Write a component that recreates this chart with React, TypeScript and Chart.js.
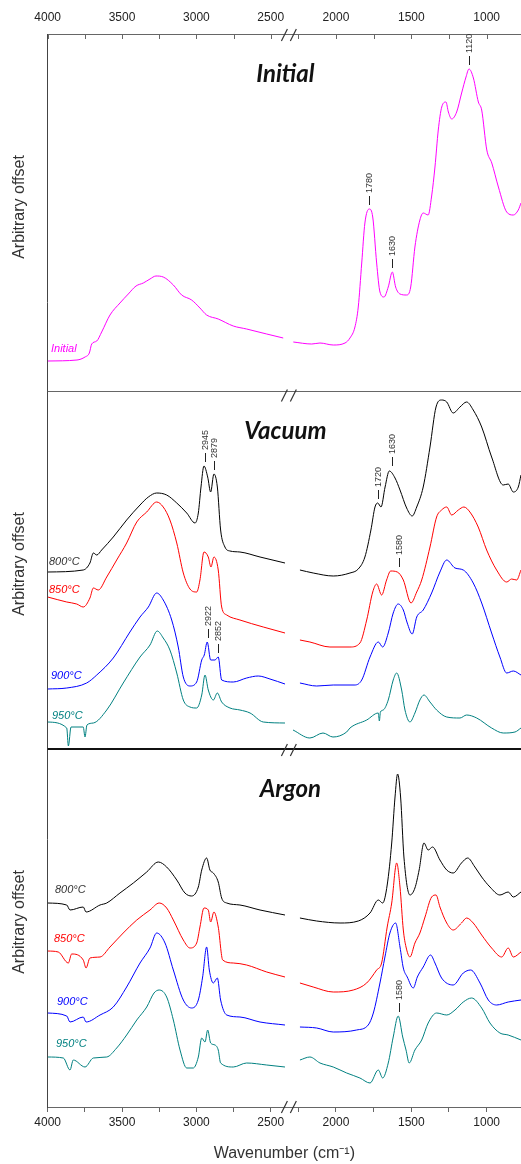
import React, { useEffect, useRef } from 'react';
import { Chart, registerables } from 'chart.js';

Chart.register(...registerables);

// ---------- axis (broken wavenumber axis) ----------
const LEFT_START_WN = 4000;
const BREAK_WN = 2330;
const RIGHT_U0 = 1938.8;
const RIGHT_SCALE = 1.01345;
const X_END_WN = 772;
const toU = (w: number) => (w >= BREAK_WN ? LEFT_START_WN - w : RIGHT_U0 + (2000 - w) * RIGHT_SCALE);

const TICK_WN = [4000, 3750, 3500, 3250, 3000, 2750, 2500, 2250, 2000, 1750, 1500, 1250, 1000];
const TICK_LABELS = ['4000', '', '3500', '', '3000', '', '2500', '', '2000', '', '1500', '', '1000'];
const BREAK_SLASH_WN = [2408, 2283];

// ---------- panels ----------
const PANEL_TITLES = ['Initial', 'Vacuum', 'Argon'];
const PANEL_OFFSET = [716, 358, 0];
const PANEL_TOP = [1073, 716, 358];
const Y_MAX = 1073;

// ---------- spectra (wavenumber, cm-1 / arbitrary offset units) ----------
const INITIAL_WN = [4000, 3803, 3749, 3720, 3704, 3670, 3637, 3581, 3514, 3458, 3406, 3357, 3312, 3272, 3223, 3155, 3099, 3032, 2976, 2931, 2853, 2752, 2662, 2527, 2416,
  2283, 2161, 2106, 2018, 1940, 1907, 1874, 1852, 1829, 1808, 1779, 1756, 1730, 1708, 1681, 1653, 1626, 1604, 1575, 1531, 1504, 1476, 1443, 1421, 1388, 1365, 1343, 1321, 1298, 1270, 1254, 1232, 1199, 1166, 1137, 1117, 1088, 1055, 1033, 999, 966, 922, 867, 823, 790, 772];
const INITIAL_ABS = [30, 31, 34, 38, 47, 50, 59, 76, 88, 97, 105, 108, 112, 115, 114, 106, 96, 91, 83, 76, 72, 65, 62, 57, 53,
  49, 47, 48, 46, 48, 53, 64, 84, 128, 168, 182, 174, 128, 99, 94, 104, 119, 104, 97, 96, 104, 144, 171, 178, 176, 195, 224, 261, 284, 289, 279, 272, 279, 298, 314, 322, 313, 289, 281, 241, 228, 204, 179, 176, 181, 188];

const VAC800_WN = [4000, 3761, 3716, 3693, 3670, 3637, 3559, 3469, 3379, 3323, 3267, 3200, 3132, 3065, 3009, 2987, 2969, 2949, 2924, 2904, 2882, 2859, 2837, 2808, 2774, 2707, 2572, 2404,
  2239, 2151, 2018, 1907, 1852, 1808, 1768, 1741, 1723, 1701, 1674, 1646, 1608, 1575, 1531, 1494, 1464, 1421, 1376, 1336, 1299, 1265, 1222, 1177, 1133, 1089, 1033, 967, 890, 857, 823, 790, 772];
const VAC800_ABS = [177, 179, 186, 196, 194, 199, 212, 229, 244, 252, 256, 254, 246, 236, 226, 236, 262, 283, 272, 257, 275, 262, 219, 202, 198, 197, 192, 186,
  179, 176, 173, 176, 180, 192, 219, 242, 246, 242, 262, 278, 271, 259, 241, 233, 242, 262, 302, 342, 349, 347, 336, 342, 347, 339, 322, 292, 264, 265, 257, 262, 274];

const VAC850_WN = [4000, 3872, 3805, 3761, 3716, 3693, 3660, 3603, 3536, 3469, 3401, 3334, 3267, 3223, 3178, 3132, 3088, 3043, 2998, 2976, 2949, 2920, 2902, 2882, 2853, 2830, 2796, 2707, 2550, 2404,
  2239, 2173, 2040, 1907, 1841, 1796, 1756, 1730, 1697, 1664, 1637, 1593, 1553, 1502, 1464, 1431, 1376, 1332, 1299, 1265, 1232, 1188, 1151, 1111, 1056, 1000, 934, 867, 834, 801, 772];
const VAC850_ABS = [152, 147, 145, 142, 151, 161, 159, 172, 189, 206, 227, 237, 247, 242, 229, 206, 176, 160, 157, 169, 197, 192, 182, 192, 179, 142, 134, 129, 122, 116,
  109, 107, 102, 102, 106, 129, 157, 165, 154, 169, 178, 177, 169, 146, 157, 169, 202, 232, 239, 242, 234, 239, 242, 237, 222, 199, 179, 167, 170, 169, 179];

const VAC900_WN = [4000, 3872, 3738, 3670, 3559, 3447, 3379, 3323, 3267, 3223, 3166, 3122, 3088, 3043, 2998, 2964, 2947, 2927, 2904, 2875, 2853, 2830, 2752, 2662, 2584, 2505, 2404,
  2239, 2128, 2018, 1874, 1829, 1774, 1719, 1690, 1653, 1620, 1587, 1553, 1527, 1494, 1464, 1421, 1365, 1310, 1265, 1210, 1155, 1089, 1033, 967, 912, 867, 823, 772];
const VAC900_ABS = [60, 61, 66, 74, 91, 117, 132, 142, 156, 149, 129, 102, 72, 63, 67, 89, 94, 107, 89, 89, 92, 69, 67, 71, 73, 70, 65,
  66, 63, 64, 64, 69, 92, 107, 102, 116, 136, 145, 139, 126, 115, 132, 139, 156, 177, 189, 181, 179, 166, 146, 116, 92, 76, 78, 74];

const VAC950_WN = [4000, 3872, 3861, 3843, 3761, 3749, 3736, 3693, 3603, 3492, 3379, 3312, 3263, 3223, 3178, 3132, 3088, 3043, 2998, 2964, 2942, 2920, 2886, 2859, 2830, 2774, 2707, 2639, 2550, 2404,
  2285, 2173, 2086, 2020, 1929, 1907, 1796, 1719, 1712, 1705, 1686, 1653, 1620, 1597, 1564, 1542, 1509, 1476, 1443, 1416, 1376, 1332, 1265, 1177, 1133, 1066, 967, 890, 812, 772];
const VAC950_ABS = [27, 21, 3, 22, 22, 12, 24, 26, 39, 66, 92, 104, 118, 111, 99, 76, 49, 42, 41, 54, 74, 59, 49, 56, 47, 41, 39, 36, 27, 26,
  19, 11, 16, 12, 17, 21, 29, 36, 28, 37, 39, 49, 69, 76, 59, 39, 27, 36, 49, 54, 47, 39, 32, 31, 34, 31, 21, 16, 17, 21];

const ARG800_WN = [4000, 3872, 3850, 3761, 3742, 3648, 3603, 3514, 3424, 3334, 3256, 3200, 3132, 3077, 3032, 2987, 2964, 2931, 2909, 2886, 2853, 2830, 2796, 2707, 2572, 2404,
  2239, 2128, 1973, 1852, 1774, 1719, 1690, 1660, 1630, 1608, 1591, 1571, 1549, 1509, 1476, 1448, 1416, 1388, 1359, 1310, 1265, 1222, 1167, 1126, 1078, 1033, 978, 912, 857, 823, 772];
const ARG800_ABS = [204, 202, 197, 200, 195, 202, 204, 214, 224, 235, 245, 240, 227, 214, 211, 220, 237, 249, 237, 234, 225, 209, 204, 202, 197, 192,
  189, 186, 184, 186, 194, 207, 204, 222, 264, 310, 333, 310, 250, 212, 219, 237, 264, 257, 260, 247, 237, 234, 244, 249, 240, 230, 220, 212, 215, 210, 215];

const ARG850_WN = [4000, 3929, 3861, 3839, 3761, 3742, 3716, 3648, 3581, 3492, 3401, 3312, 3250, 3200, 3155, 3088, 3043, 2998, 2976, 2949, 2920, 2904, 2882, 2853, 2823, 2752, 2662, 2527, 2404,
  2239, 2151, 2018, 1885, 1796, 1730, 1697, 1660, 1630, 1597, 1575, 1553, 1535, 1509, 1476, 1443, 1409, 1365, 1336, 1310, 1265, 1222, 1167, 1133, 1089, 1033, 967, 900, 857, 823, 772];
const ARG850_ABS = [156, 155, 144, 153, 147, 139, 149, 150, 160, 174, 187, 197, 204, 199, 187, 167, 159, 164, 180, 199, 197, 185, 195, 180, 147, 144, 142, 135, 130,
  124, 120, 115, 117, 124, 137, 144, 180, 204, 244, 220, 177, 160, 150, 164, 174, 190, 210, 212, 200, 184, 177, 184, 189, 184, 172, 159, 150, 159, 150, 155];

const ARG900_WN = [4000, 3872, 3850, 3761, 3742, 3648, 3559, 3469, 3379, 3312, 3267, 3211, 3155, 3088, 3032, 2987, 2958, 2931, 2913, 2886, 2859, 2837, 2796, 2707, 2572, 2404,
  2239, 2128, 2018, 1863, 1786, 1752, 1708, 1675, 1642, 1604, 1575, 1553, 1527, 1487, 1460, 1421, 1372, 1343, 1299, 1222, 1155, 1106, 1044, 989, 934, 857, 772];
const ARG900_ABS = [94, 91, 85, 90, 85, 92, 100, 120, 144, 159, 174, 164, 137, 107, 99, 107, 130, 160, 137, 124, 129, 107, 92, 90, 85, 82,
  80, 79, 75, 77, 82, 94, 124, 150, 174, 184, 160, 139, 130, 119, 130, 140, 152, 144, 129, 122, 134, 137, 124, 107, 102, 105, 107];

const ARG950_WN = [4000, 3895, 3850, 3828, 3749, 3693, 3603, 3536, 3469, 3401, 3334, 3285, 3250, 3200, 3155, 3110, 3065, 3021, 2987, 2964, 2942, 2924, 2904, 2875, 2853, 2837, 2752, 2662, 2527, 2404,
  2239, 2173, 2106, 2018, 1929, 1841, 1774, 1719, 1690, 1653, 1620, 1587, 1557, 1535, 1514, 1476, 1431, 1388, 1332, 1265, 1210, 1155, 1100, 1033, 978, 912, 857, 772];
const ARG950_ABS = [50, 49, 37, 47, 40, 49, 50, 59, 72, 87, 100, 114, 117, 110, 87, 57, 39, 39, 50, 69, 65, 77, 64, 62, 57, 44, 40, 44, 42, 40,
  47, 50, 44, 40, 34, 29, 24, 37, 29, 44, 70, 91, 70, 57, 44, 57, 67, 84, 94, 92, 97, 105, 109, 99, 84, 74, 72, 67];

// ---------- peak annotations ----------
const PEAK_LABELS = ['1780', '1630', '1120', '2945', '2879', '1720', '1630', '1580', '2922', '2852', '1580'];
const PEAK_WN = [1780, 1630, 1120, 2945, 2879, 1720, 1630, 1580, 2922, 2852, 1580];
const PEAK_LEVEL = [182, 119, 322, 283, 275, 246, 279, 178, 107, 92, 91];
const PEAK_PANEL = [0, 0, 0, 1, 1, 1, 1, 1, 1, 1, 2];

// ---------- styles ----------
const MAGENTA = '#ff00ff';
const BLACK = '#000000';
const RED = '#ff0000';
const BLUE = '#0000ff';
const TEAL = '#008080';
const AXIS_COLOR = '#666666';
const TEXT_COLOR = '#222222';
const SANS = '"Liberation Sans", Arial, sans-serif';

const SERIES = [
  { name: 'Initial', wn: INITIAL_WN, val: INITIAL_ABS, color: MAGENTA, panel: 0 },
  { name: '800°C', wn: VAC800_WN, val: VAC800_ABS, color: BLACK, panel: 1 },
  { name: '850°C', wn: VAC850_WN, val: VAC850_ABS, color: RED, panel: 1 },
  { name: '900°C', wn: VAC900_WN, val: VAC900_ABS, color: BLUE, panel: 1 },
  { name: '950°C', wn: VAC950_WN, val: VAC950_ABS, color: TEAL, panel: 1 },
  { name: '800°C', wn: ARG800_WN, val: ARG800_ABS, color: BLACK, panel: 2 },
  { name: '850°C', wn: ARG850_WN, val: ARG850_ABS, color: RED, panel: 2 },
  { name: '900°C', wn: ARG900_WN, val: ARG900_ABS, color: BLUE, panel: 2 },
  { name: '950°C', wn: ARG950_WN, val: ARG950_ABS, color: TEAL, panel: 2 },
];
// label placement (px) for each series name tag
const TAG_POS = [[51, 349], [49, 562], [49, 590], [51, 676], [52, 716], [55, 890], [54, 939], [57, 1002], [56, 1044]];
const TAG_COLORS = [MAGENTA, '#333333', RED, BLUE, TEAL, '#333333', RED, BLUE, TEAL];

function buildPoints(wn: number[], val: number[], offset: number) {
  const pts: { x: number; y: number | null }[] = [];
  const n = Math.min(wn.length, val.length);
  for (let i = 0; i < n; i++) {
    if (i > 0 && wn[i - 1] >= BREAK_WN && wn[i] < BREAK_WN) {
      pts.push({ x: (toU(wn[i - 1]) + toU(wn[i])) / 2, y: null });
    }
    pts.push({ x: toU(wn[i]), y: val[i] + offset });
  }
  return pts;
}

const setTicks = (scale: any) => {
  scale.ticks = TICK_WN.map((w) => ({ value: toU(w) }));
};

const decorPlugin = {
  id: 'decor',
  afterDraw(chart: any) {
    const { ctx, chartArea } = chart;
    const xs = chart.scales.x;
    const ys = chart.scales.y;
    const L = chartArea.left;
    const R = chartArea.right;
    ctx.save();

    // panel dividers
    const d1 = Math.round(ys.getPixelForValue(PANEL_TOP[1])) + 0.5;
    ctx.strokeStyle = AXIS_COLOR;
    ctx.lineWidth = 1;
    ctx.beginPath();
    ctx.moveTo(L, d1);
    ctx.lineTo(R, d1);
    ctx.stroke();
    const d2 = Math.round(ys.getPixelForValue(PANEL_TOP[2]));
    ctx.strokeStyle = '#111111';
    ctx.lineWidth = 2;
    ctx.beginPath();
    ctx.moveTo(L, d2);
    ctx.lineTo(R, d2);
    ctx.stroke();

    // inward ticks on top axis
    ctx.strokeStyle = AXIS_COLOR;
    ctx.lineWidth = 1;
    TICK_WN.forEach((w) => {
      const x = Math.round(xs.getPixelForValue(toU(w))) + 0.5;
      ctx.beginPath();
      ctx.moveTo(x, chartArea.top);
      ctx.lineTo(x, chartArea.top + 5);
      ctx.stroke();
    });

    // axis break slashes
    const slashYs = [chartArea.top + 1, d1 + 4, d2 + 1, chartArea.bottom];
    ctx.strokeStyle = '#333333';
    ctx.lineWidth = 1.2;
    slashYs.forEach((cy) => {
      BREAK_SLASH_WN.forEach((w) => {
        const cx = xs.getPixelForValue(toU(w));
        ctx.beginPath();
        ctx.moveTo(cx - 3, cy + 6);
        ctx.lineTo(cx + 3, cy - 6);
        ctx.stroke();
      });
    });

    // panel titles and y titles
    const midX = (L + R) / 2;
    const titleDx = [1, 1, 6];
    PANEL_TITLES.forEach((t, i) => {
      const topPx = ys.getPixelForValue(PANEL_TOP[i]);
      ctx.fillStyle = '#111111';
      ctx.font = 'italic bold 24px Lato, "Open Sans", sans-serif';
      ctx.textAlign = 'center';
      ctx.textBaseline = 'middle';
      ctx.fillText(t, midX + titleDx[i], topPx + 40);

      ctx.save();
      ctx.translate(19.5, topPx + 173);
      ctx.rotate(-Math.PI / 2);
      ctx.font = `16px ${SANS}`;
      ctx.fillStyle = '#333333';
      ctx.textAlign = 'center';
      ctx.textBaseline = 'middle';
      ctx.fillText('Arbitrary offset', 0, 0);
      ctx.restore();
    });

    // series name tags
    SERIES.forEach((s, i) => {
      ctx.font = `italic 11px ${SANS}`;
      ctx.fillStyle = TAG_COLORS[i];
      ctx.textAlign = 'left';
      ctx.textBaseline = 'middle';
      ctx.fillText(s.name, TAG_POS[i][0], TAG_POS[i][1]);
    });

    // peak annotations
    PEAK_LABELS.forEach((lab, i) => {
      const x = Math.round(xs.getPixelForValue(toU(PEAK_WN[i]))) + 0.5;
      const y = ys.getPixelForValue(PEAK_LEVEL[i] + PANEL_OFFSET[PEAK_PANEL[i]]);
      ctx.strokeStyle = '#222222';
      ctx.lineWidth = 1;
      ctx.beginPath();
      ctx.moveTo(x, y - 4);
      ctx.lineTo(x, y - 13);
      ctx.stroke();
      ctx.save();
      ctx.translate(x, y - 16);
      ctx.rotate(-Math.PI / 2);
      ctx.font = `9px ${SANS}`;
      ctx.fillStyle = '#333333';
      ctx.textAlign = 'left';
      ctx.textBaseline = 'middle';
      ctx.fillText(lab, 0, 0);
      ctx.restore();
    });

    ctx.restore();
  },
};

export default function App() {
  const ref = useRef<HTMLCanvasElement>(null);
  useEffect(() => {
    if (!ref.current) return;
    const datasets = SERIES.map((s) => ({
      label: s.name,
      data: buildPoints(s.wn, s.val, PANEL_OFFSET[s.panel]),
      borderColor: s.color,
      backgroundColor: s.color,
      borderWidth: 1,
      pointRadius: 0,
      fill: false,
      spanGaps: false,
      cubicInterpolationMode: 'monotone' as const,
    }));
    const xCommon = {
      type: 'linear' as const,
      min: toU(LEFT_START_WN),
      max: toU(X_END_WN),
      afterBuildTicks: setTicks,
      border: { display: true, color: AXIS_COLOR, width: 1 },
    };
    const chart = new Chart(ref.current, {
      type: 'line',
      data: { datasets },
      options: {
        animation: false,
        responsive: true,
        maintainAspectRatio: false,
        events: [],
        layout: { padding: 0, autoPadding: false },
        plugins: { legend: { display: false }, tooltip: { enabled: false }, title: { display: false } },
        scales: {
          x: {
            ...xCommon,
            position: 'bottom',
            grid: { display: true, drawOnChartArea: false, drawTicks: true, tickLength: 5, color: AXIS_COLOR },
            ticks: {
              autoSkip: false,
              maxRotation: 0,
              minRotation: 0,
              padding: 3,
              color: TEXT_COLOR,
              font: { family: SANS, size: 12 },
              callback: (_v: any, i: number) => TICK_LABELS[i],
            },
            title: {
              display: true,
              text: 'Wavenumber (cm⁻¹)',
              color: '#333333',
              font: { family: SANS, size: 16 },
              padding: { top: 0, bottom: 1 },
            },
            afterFit: (scale: any) => {
              scale.height = 57;
            },
          },
          x2: {
            ...xCommon,
            position: 'top',
            grid: { display: true, drawOnChartArea: false, drawTicks: false, color: AXIS_COLOR },
            ticks: {
              autoSkip: false,
              maxRotation: 0,
              minRotation: 0,
              padding: 9,
              color: TEXT_COLOR,
              font: { family: SANS, size: 12 },
              callback: (_v: any, i: number) => TICK_LABELS[i],
            },
            afterFit: (scale: any) => {
              scale.height = 34;
            },
          },
          y: {
            type: 'linear',
            position: 'left',
            min: 0,
            max: Y_MAX,
            grid: { display: true, drawOnChartArea: false, drawTicks: false },
            border: { display: true, color: '#444444', width: 1 },
            ticks: { display: false },
            afterFit: (scale: any) => {
              scale.width = 47.7;
            },
          },
        },
      },
      plugins: [decorPlugin],
    } as any);
    return () => chart.destroy();
  }, []);
  return (
    <div style={{ position: 'absolute', left: 0, top: 0, width: 521, height: 1164, background: '#ffffff' }}>
      <canvas ref={ref} />
    </div>
  );
}
